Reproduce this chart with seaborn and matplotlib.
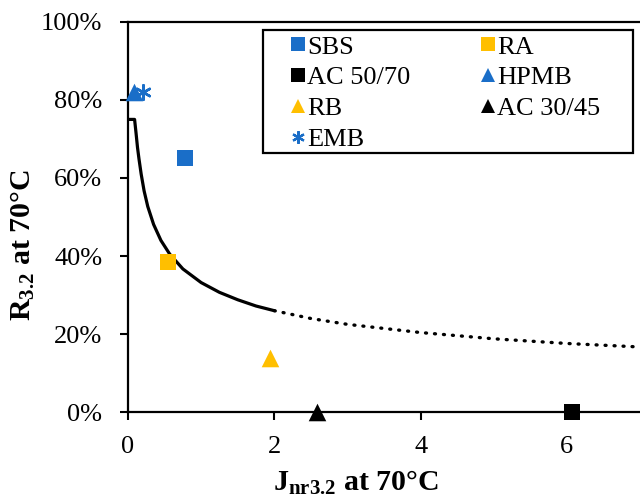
import matplotlib
matplotlib.use("Agg")
import matplotlib.pyplot as plt
import seaborn as sns
import pandas as pd
from matplotlib.ticker import PercentFormatter
from matplotlib.patches import Rectangle

# ---- data ----
names = ["SBS", "AC 50/70", "RB", "EMB", "RA", "HPMB", "AC 30/45"]
x_vals = [0.78, 6.07, 1.94, 0.20, 0.55, 0.08, 2.59]
y_vals = [65.0, 0.0, 14.0, 82.0, 38.5, 82.0, 0.0]
colors = ["#1a6ec8", "#000000", "#ffbf00", "#1a6ec8", "#ffbf00", "#1a6ec8", "#000000"]
markers = ["s", "s", "^", (6, 2, 0), "s", "^", "^"]

# trend line (solid part)
trend_x = [0.0, 0.09, 0.11, 0.13, 0.15, 0.18, 0.22, 0.27, 0.35, 0.45, 0.57, 0.75, 1.0, 1.25, 1.5, 1.75, 2.0]
trend_y = [75.0, 75.0, 71.5, 67.8, 64.9, 61.0, 56.7, 52.7, 48.1, 44.0, 40.5, 36.7, 33.2, 30.7, 28.8, 27.2, 26.0]
# trend line (dotted extrapolation)
ext_x = [2.0, 2.5, 3.0, 4.0, 5.0, 6.0, 7.0]
ext_y = [26.0, 24.0, 22.5, 20.4, 18.8, 17.6, 16.7]

x_ticks = [0, 2, 4, 6]
y_ticks = [0, 20, 40, 60, 80, 100]

sns.set_theme(style="white")
plt.rcParams["font.family"] = ["Liberation Serif", "DejaVu Serif"]
plt.rcParams["mathtext.fontset"] = "custom"
plt.rcParams["mathtext.rm"] = "Liberation Serif"
plt.rcParams["mathtext.bf"] = "Liberation Serif:bold"
plt.rcParams["mathtext.it"] = "Liberation Serif:italic"

fig = plt.figure(figsize=(6.4, 4.96), dpi=100)
ax = fig.add_axes([0.2, 0.169, 0.8, 0.787])

trend = pd.DataFrame({"x": trend_x, "y": trend_y})
ext = pd.DataFrame({"x": ext_x, "y": ext_y})
sns.lineplot(data=trend, x="x", y="y", ax=ax, color="black", lw=2.3,
             estimator=None, sort=False, legend=False)
sns.lineplot(data=ext, x="x", y="y", ax=ax, color="black", lw=2.4,
             linestyle=(0, (0.3, 2.4)), dash_capstyle="round",
             estimator=None, sort=False, legend=False)

handles = []
for n, xv, yv, c, m in zip(names, x_vals, y_vals, colors, markers):
    df = pd.DataFrame({"x": [xv], "y": [yv]})
    is_ast = isinstance(m, tuple)
    size = 140 if m == "s" else (160 if m == "^" else 110)
    sns.scatterplot(data=df, x="x", y="y", ax=ax, color=c, marker=m, s=size,
                    linewidth=1.8 if is_ast else 0, edgecolor=c, zorder=5,
                    clip_on=False, legend=False)
    h = plt.Line2D([], [], linestyle="", marker=m, color=c,
                   markersize=9.5 if not is_ast else 9,
                   markeredgewidth=1.6 if is_ast else 0, markeredgecolor=c)
    handles.append(h)

ax.set_xlim(0, 7)
ax.set_ylim(0, 100)
ax.set_xticks(x_ticks)
ax.set_yticks(y_ticks)
ax.yaxis.set_major_formatter(PercentFormatter(decimals=0))

for side in ["left", "bottom", "top"]:
    ax.spines[side].set_visible(True)
    ax.spines[side].set_color("black")
    ax.spines[side].set_linewidth(1.6)
ax.spines["right"].set_visible(False)

ax.tick_params(axis="both", which="major", direction="out", length=6, width=1.5,
               color="black", labelsize=19, labelcolor="black", bottom=True, left=True)
ax.tick_params(axis="y", pad=12.5)
ax.tick_params(axis="x", pad=11)

ax.set_xlabel(r"$\mathbf{J_{nr3.2}}$ at 70°C", fontsize=21.5, fontweight="bold", color="black")
ax.set_ylabel(r"$\mathbf{R_{3.2}}$ at 70°C", fontsize=21.5, fontweight="bold", color="black")
ax.xaxis.set_label_coords(0.445, -0.145)
ax.yaxis.set_label_coords(-0.178, 0.427)

# legend frame (square, black)
ax.add_patch(Rectangle((0.2637, 0.664), 0.7226, 0.315, transform=ax.transAxes,
                       facecolor="white", edgecolor="black", lw=1.6, zorder=6))
leg = ax.legend(handles, names, ncol=2, loc="upper left",
                bbox_to_anchor=(0.316, 0.966), frameon=False,
                fontsize=19, borderpad=0.0,
                handlelength=0.6, handletextpad=0.05, labelspacing=0.28,
                columnspacing=2.65, borderaxespad=0.0)
leg.set_zorder(7)
for t in leg.get_texts():
    t.set_color("black")

fig.savefig("out.png", dpi=100)
